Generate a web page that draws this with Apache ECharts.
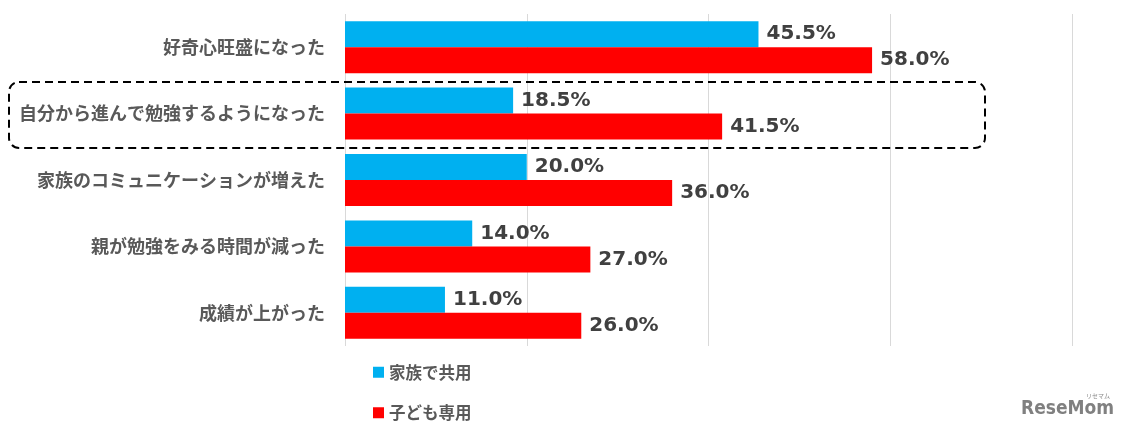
<!DOCTYPE html>
<html><head><meta charset="utf-8">
<script src="https://cdn.jsdelivr.net/npm/echarts@6/dist/echarts.min.js"></script>
<style>html,body{margin:0;padding:0;background:#fff}#c{width:1133px;height:434px}</style>
</head><body><div id="c"></div>
<script>
const categories = ['好奇心旺盛になった','自分から進んで勉強するようになった','家族のコミュニケーションが増えた','親が勉強をみる時間が減った','成績が上がった'];
const seriesNames = ['家族で共用','子ども専用'];
const sharedValues = [45.5, 18.5, 20.0, 14.0, 11.0];
const ownValues = [58.0, 41.5, 36.0, 27.0, 26.0];

const chart = echarts.init(document.getElementById('c'));
const lbl = {show:true, position:'right', distance:8, formatter:p=>p.value.toFixed(1)+'%',
  fontFamily:'DejaVu Sans', fontWeight:'bold', fontSize:20, color:'#404040'};
chart.setOption({
  animation:false,
  grid:{left:345, right:61, top:14, bottom:88},
  xAxis:{type:'value', min:0, max:80, interval:20,
    axisLabel:{show:false}, axisLine:{show:false}, axisTick:{show:false},
    splitLine:{lineStyle:{color:'#D9D9D9', width:1}}},
  yAxis:{type:'category', data:categories, inverse:true,
    axisLine:{show:false}, axisTick:{show:false},
    axisLabel:{margin:20, fontFamily:'Noto Sans CJK JP', fontWeight:'bold', fontSize:18, color:'#595959'}},
  legend:{orient:'vertical', left:368, top:359, itemWidth:11, itemHeight:11, itemGap:24, icon:'rect',
    textStyle:{fontFamily:'Noto Sans CJK JP', fontWeight:'bold', fontSize:16.5, color:'#595959'},
    data:seriesNames},
  series:[
    {name:seriesNames[0], type:'bar', data:sharedValues, itemStyle:{color:'#00B0F0'},
     barWidth:26, barGap:'0%', label:lbl},
    {name:seriesNames[1], type:'bar', data:ownValues, itemStyle:{color:'#FF0000'},
     barWidth:26, barGap:'0%', label:lbl}
  ],
  graphic:[
    {type:'rect', z:100, shape:{x:9, y:82, width:976, height:66, r:10},
     style:{fill:null, stroke:'#000', lineWidth:2, lineDash:[8,5]}},
    {type:'text', left:1021, top:400, style:{text:'ReseMom', fontFamily:'DejaVu Sans Condensed', fontWeight:'bold', fontSize:19, fill:'#808080'}},
    {type:'text', left:1086, top:393, style:{text:'リセマム', fontFamily:'Noto Sans CJK JP', fontSize:6, fill:'#888'}}
  ]
});
</script></body></html>
